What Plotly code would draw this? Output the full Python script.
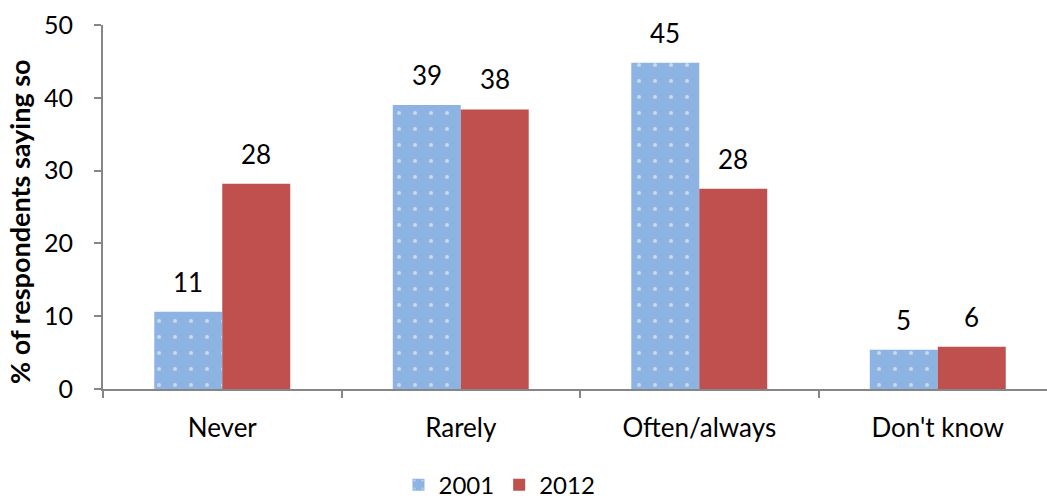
import plotly.graph_objects as go

categories = ["Never", "Rarely", "Often/always", "Don't know"]
series_2001 = [10.6, 39.0, 44.8, 5.4]
series_2012 = [28.2, 38.4, 27.5, 5.8]
y_ticks = [0, 10, 20, 30, 40, 50]
y_title = "% of respondents saying so"

FONT = "Lato, 'Open Sans', sans-serif"
BLUE = "#8DB3E2"
RED = "#C0504D"
AXIS = "#868686"
BARGAP = 0.43

fig = go.Figure()
fig.add_trace(go.Bar(
    name="2001", x=categories, y=series_2001,
    marker=dict(color=BLUE, line=dict(width=0),
                pattern=dict(shape=".", fgcolor="white", bgcolor=BLUE,
                             size=16, solidity=0.05, fillmode="overlay")),
))
fig.add_trace(go.Bar(
    name="2012", x=categories, y=series_2012,
    marker=dict(color=RED, line=dict(width=0)),
))

# value labels above each bar, offset to the centre of its slot in the group
half_slot = (1 - BARGAP) / 4
for sign, values in ((-1, series_2001), (1, series_2012)):
    for i, v in enumerate(values):
        fig.add_annotation(
            x=i + sign * half_slot, y=v, xref="x", yref="y",
            text=f"{v:.0f}", showarrow=False, yanchor="bottom", yshift=12,
            font=dict(size=26, color="black", family=FONT),
        )

# rotated y-axis title
fig.add_annotation(
    x=-0.089, y=0.5, xref="paper", yref="paper", xanchor="center", yanchor="middle",
    text=f"<b>{y_title}</b>", textangle=-90, showarrow=False, yshift=-14,
    font=dict(size=27, color="black", family=FONT),
)

fig.update_layout(
    width=1047, height=499,
    margin=dict(l=103, r=0, t=25, b=110),
    paper_bgcolor="white", plot_bgcolor="white",
    barmode="group", bargap=BARGAP, bargroupgap=0,
    font=dict(family=FONT, size=26, color="black"),
    showlegend=True,
    legend=dict(orientation="h", x=0.42, xanchor="center",
                yref="container", y=0.028, yanchor="middle",
                font=dict(size=24, family=FONT), traceorder="normal",
                itemwidth=30, tracegroupgap=0),
    xaxis=dict(
        range=[-0.5, 3.458], showline=True, linecolor=AXIS, linewidth=2,
        ticks="outside", tickson="boundaries", ticklen=7, tickcolor=AXIS, tickwidth=1.5,
        showgrid=False, tickfont=dict(size=26), ticklabelstandoff=15, fixedrange=True,
        automargin=False,
    ),
    yaxis=dict(
        range=[0, 50], tickvals=y_ticks, showline=True, linecolor=AXIS, linewidth=2,
        ticks="outside", ticklen=7, tickcolor=AXIS, tickwidth=1.5,
        showgrid=False, zeroline=False, automargin=False,
        tickfont=dict(size=25), ticklabelstandoff=16,
    ),
)

fig.write_html("out.html")
